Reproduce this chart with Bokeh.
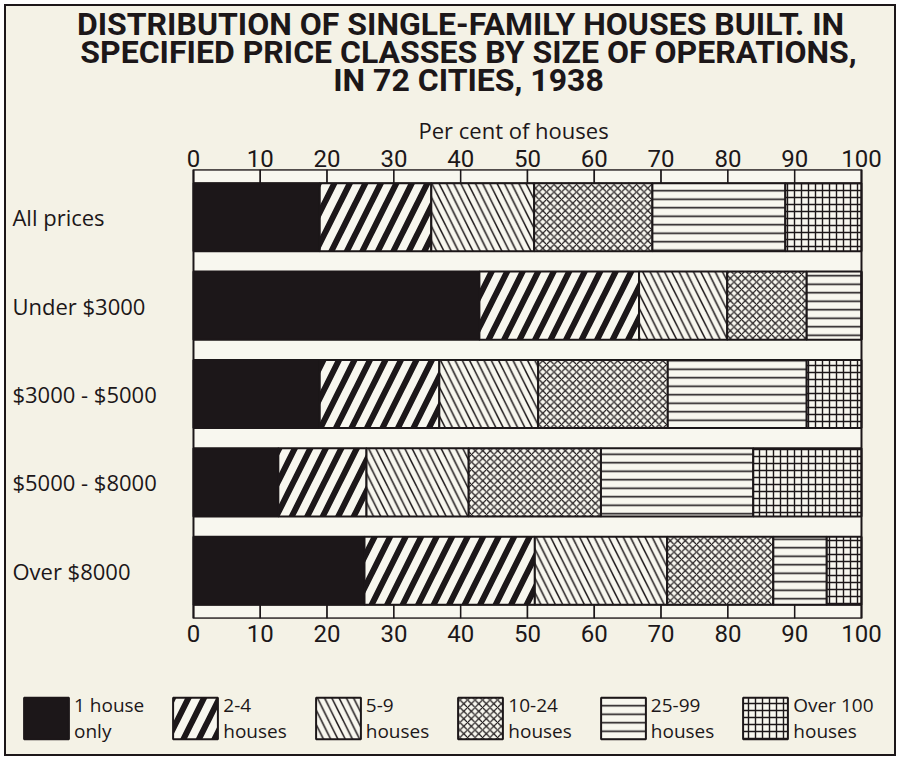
from bokeh.plotting import figure
from bokeh.layouts import column
from bokeh.models import (ColumnDataSource, Range1d, LinearAxis, FixedTicker, Title,
                          Legend, LegendItem, InlineStyleSheet)
from bokeh.embed import file_html
from bokeh.resources import INLINE
from bokeh.core.properties import value

# ---------------- data ----------------
categories = ["All prices", "Under $3000", "$3000 - $5000", "$5000 - $8000", "Over $8000"]
series_names = ["1 house\nonly", "2-4\nhouses", "5-9\nhouses", "10-24\nhouses", "25-99\nhouses", "Over 100\nhouses"]
one_house = [18.9, 42.8, 18.9, 12.7, 25.6]
two_to_four = [16.7, 23.9, 17.9, 13.2, 25.5]
five_to_nine = [15.4, 13.2, 14.8, 15.3, 19.8]
ten_to_24 = [17.7, 11.9, 19.4, 19.8, 15.9]
t25_to_99 = [19.9, 8.2, 20.8, 22.8, 8.0]
over_100 = [11.4, 0.0, 8.2, 16.2, 5.2]
tick_values = list(range(0, 101, 10))
title_lines = ["DISTRIBUTION OF SINGLE-FAMILY HOUSES BUILT. IN",
               "SPECIFIED PRICE CLASSES BY SIZE OF OPERATIONS,",
               "IN 72 CITIES, 1938"]
axis_title = "Per cent of houses"

# ---------------- style / layout ----------------
INK = "#1c1719"
BG = "#f4f2e6"
PAPER = "#f8f7ef"
LABEL_FONT = "Open Sans"
NUM_FONT = "Roboto"
TITLE_FONT = "Roboto"
Y_TOP, Y_BOT = -0.54, 4.54
X_LEFT, X_RIGHT = -27.99, 104.94
BAR_H = 0.77
LABEL_X = -27.1
W = 888
HEAD_H, MAIN_H, LEG_H = 103, 554, 91


def bare(fig):
    fig.xgrid.visible = False
    fig.ygrid.visible = False
    return fig


# ---------------- heading ----------------
head = bare(figure(width=W, height=HEAD_H, output_backend="svg", toolbar_location=None,
                   x_range=Range1d(0, W), y_range=Range1d(HEAD_H, 0),
                   x_axis_location=None, y_axis_location=None,
                   min_border_left=0, min_border_right=0, min_border_top=0, min_border_bottom=0,
                   background_fill_color=BG, border_fill_color=BG, outline_line_color=None))
head_src = ColumnDataSource(dict(x=[454, 462, 462], y=[17, 45, 73], text=title_lines))
head.text(x="x", y="y", text="text", source=head_src, text_align="center",
          text_baseline="alphabetic", text_font=value(TITLE_FONT), text_font_style="bold",
          text_font_size="32px", text_color=INK)

# ---------------- main chart ----------------
p = bare(figure(width=W, height=MAIN_H, output_backend="svg", toolbar_location=None,
                x_range=Range1d(X_LEFT, X_RIGHT), y_range=Range1d(Y_BOT, Y_TOP),
                x_axis_location=None, y_axis_location=None,
                min_border_left=0, min_border_right=0, min_border_top=60, min_border_bottom=45,
                background_fill_color=BG, border_fill_color=BG, outline_line_color=None))

for loc, standoff in (("above", 3), ("below", 6)):
    ax = LinearAxis(ticker=FixedTicker(ticks=tick_values),
                    axis_line_color=None, major_tick_line_color=None, minor_tick_line_color=None,
                    major_tick_out=0, major_tick_in=0,
                    major_label_text_font=NUM_FONT, major_label_text_font_size="24px",
                    major_label_text_color=INK, major_label_standoff=standoff)
    p.add_layout(ax, loc)
p.add_layout(Title(text=axis_title, align="left", offset=412, standoff=3,
                   text_font=LABEL_FONT, text_font_size="22px", text_font_style="normal",
                   text_color=INK), "above")

# chart box
p.quad(left=[tick_values[0]], right=[tick_values[-1]], top=[Y_TOP], bottom=[Y_BOT],
       fill_color=PAPER, line_color=None)

# ruler strips along top and bottom of the chart box
ruler = ColumnDataSource(dict(left=tick_values[:-1], right=tick_values[1:]))
p.quad(left="left", right="right", top=Y_TOP, bottom=-BAR_H / 2, source=ruler,
       fill_color=PAPER, line_color=INK, line_width=1.5)
p.quad(left="left", right="right", top=len(categories) - 1 + BAR_H / 2, bottom=Y_BOT, source=ruler,
       fill_color=PAPER, line_color=INK, line_width=1.5)

series = [one_house, two_to_four, five_to_nine, ten_to_24, t25_to_99, over_100]
styles = [
    dict(fill_color=INK),
    dict(fill_color=PAPER, hatch_pattern="/", hatch_scale=31, hatch_weight=6),
    dict(fill_color=PAPER, hatch_pattern="\\", hatch_scale=14.5, hatch_weight=1.5),
    dict(fill_color=PAPER, hatch_pattern="x", hatch_scale=7.5, hatch_weight=1.2),
    dict(fill_color=PAPER, hatch_pattern="-", hatch_scale=8.5, hatch_weight=1.6),
    dict(fill_color=PAPER, hatch_pattern="+", hatch_scale=7, hatch_weight=1.4),
]
ypos = list(range(len(categories)))
left = [0.0] * len(categories)
sources = []
for vals, st in zip(series, styles):
    right = [l + v for l, v in zip(left, vals)]
    src = ColumnDataSource(dict(y=ypos, left=left, right=right))
    sources.append(src)
    p.hbar(y="y", left="left", right="right", height=BAR_H, source=src,
           line_color=INK, line_width=2, hatch_color=INK, **st)
    left = right

# outline of chart box on top
p.quad(left=[tick_values[0]], right=[tick_values[-1]], top=[Y_TOP], bottom=[Y_BOT],
       fill_color=None, line_color=INK, line_width=2)

# category labels
cat_src = ColumnDataSource(dict(y=ypos, text=categories, x=[LABEL_X] * len(categories)))
p.text(x="x", y="y", text="text", source=cat_src, text_align="left", text_baseline="middle",
       text_font=value(LABEL_FONT), text_font_size="22px", text_color=INK)

# ---------------- legend strip ----------------
lg = bare(figure(width=W, height=LEG_H, output_backend="svg", toolbar_location=None,
                 x_range=Range1d(X_LEFT, X_RIGHT), y_range=Range1d(Y_BOT, Y_TOP),
                 x_axis_location=None, y_axis_location=None,
                 min_border_left=0, min_border_right=0, min_border_top=0, min_border_bottom=0,
                 background_fill_color=BG, border_fill_color=BG, outline_line_color=None))
items = []
for name, st, src in zip(series_names, styles, sources):
    r = lg.hbar(y="y", left="left", right="right", height=BAR_H, source=src,
                line_color=INK, line_width=2, hatch_color=INK, visible=False, **st)
    items.append(LegendItem(label=name, renderers=[r]))
legend = Legend(items=items, orientation="horizontal", location=(12, 10),
                glyph_width=56, glyph_height=52, label_standoff=0, spacing=23, padding=0,
                margin=0, border_line_color=None, background_fill_alpha=0,
                label_text_font=LABEL_FONT, label_text_font_size="19px",
                label_text_line_height=1.2, label_text_color=INK)
lg.add_layout(legend)

page = column(head, p, lg, spacing=0)
page.stylesheets = [InlineStyleSheet(css=":host { border: 2px solid #1c1719; margin: 4px; background: #f4f2e6; }")]

open("out.html", "w").write(file_html(page, INLINE))
